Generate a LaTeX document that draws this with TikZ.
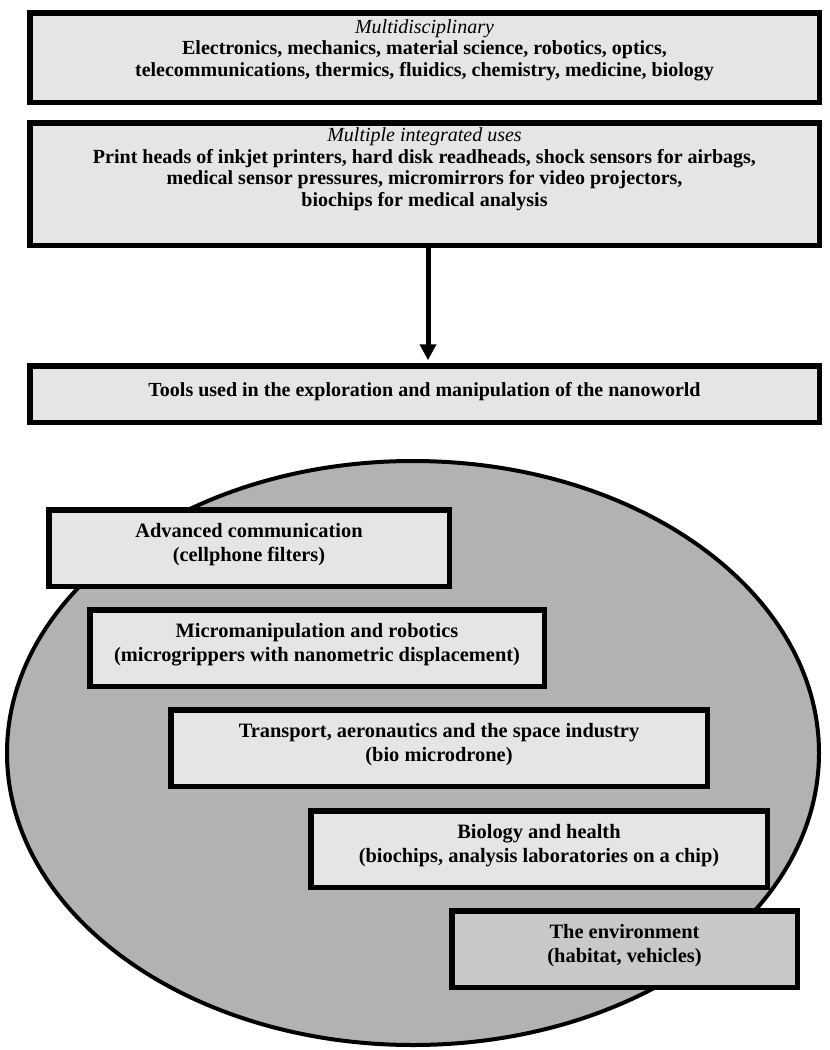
\documentclass[tikz,border=0pt]{standalone}
\usepackage{fontspec}
\setmainfont{Liberation Serif}
\usetikzlibrary{arrows.meta,positioning}
\definecolor{boxgray}{gray}{0.9}
\definecolor{ovalgray}{gray}{0.7}
\definecolor{envgray}{gray}{0.79}

\begin{document}
\begin{tikzpicture}[x=1pt,y=1pt,
  topbox/.style={draw,line width=5.5pt,fill=boxgray,minimum width=789.5pt,inner sep=0pt,align=center,font=\bfseries\fontsize{20}{21.5}\selectfont},
  fieldbox/.style={draw,line width=5.5pt,fill=boxgray,inner sep=0pt,align=center,text height=51.25pt,text depth=25.25pt,font=\bfseries\fontsize{20.4}{24}\selectfont}]
  \useasboundingbox (0,0) rectangle (830,-1050);
  \node[topbox,text height=63.25pt,text depth=26.25pt] (multi) at (424.5,-57.5)
    {{\mdseries\itshape Multidisciplinary}\\Electronics, mechanics, material science, robotics, optics,\\telecommunications, thermics, fluidics, chemistry, medicine, biology};
  \node[topbox,text height=83.25pt,text depth=39.25pt] (uses) at (424.5,-184)
    {{\mdseries\itshape Multiple integrated uses}\\Print heads of inkjet printers, hard disk readheads, shock sensors for airbags,\\medical sensor pressures, micromirrors for video projectors,\\biochips for medical analysis};
  \node[topbox,text height=30.75pt,text depth=25.75pt] (tools) at (424.5,-394)
    {Tools used in the exploration and manipulation of the nanoworld};
  \draw[-{Triangle[length=16pt,width=16pt]},line width=5pt,shorten >=2.75pt]
    ([xshift=3.5pt]uses.south) -- ([xshift=3.5pt]tools.north);
  \draw[line width=4pt,fill=ovalgray] (413,-753) ellipse [x radius=406, y radius=292];
  \node[fieldbox,minimum width=400.5pt] (comm) at (249,-548)
    {Advanced communication\\(cellphone filters)};
  \node[fieldbox,minimum width=454.5pt] (robot) at (317,-648)
    {Micromanipulation and robotics\\(microgrippers with nanometric displacement)};
  \node[fieldbox,minimum width=536.5pt] (transp) at (439,-748)
    {Transport, aeronautics and the space industry\\(bio microdrone)};
  \node[fieldbox,minimum width=456.5pt] (bio) at (539,-849)
    {Biology and health\\(biochips, analysis laboratories on a chip)};
  \node[fieldbox,fill=envgray,minimum width=345.5pt] (envir) at (624.5,-949)
    {The environment\\(habitat, vehicles)};
\end{tikzpicture}
\end{document}
